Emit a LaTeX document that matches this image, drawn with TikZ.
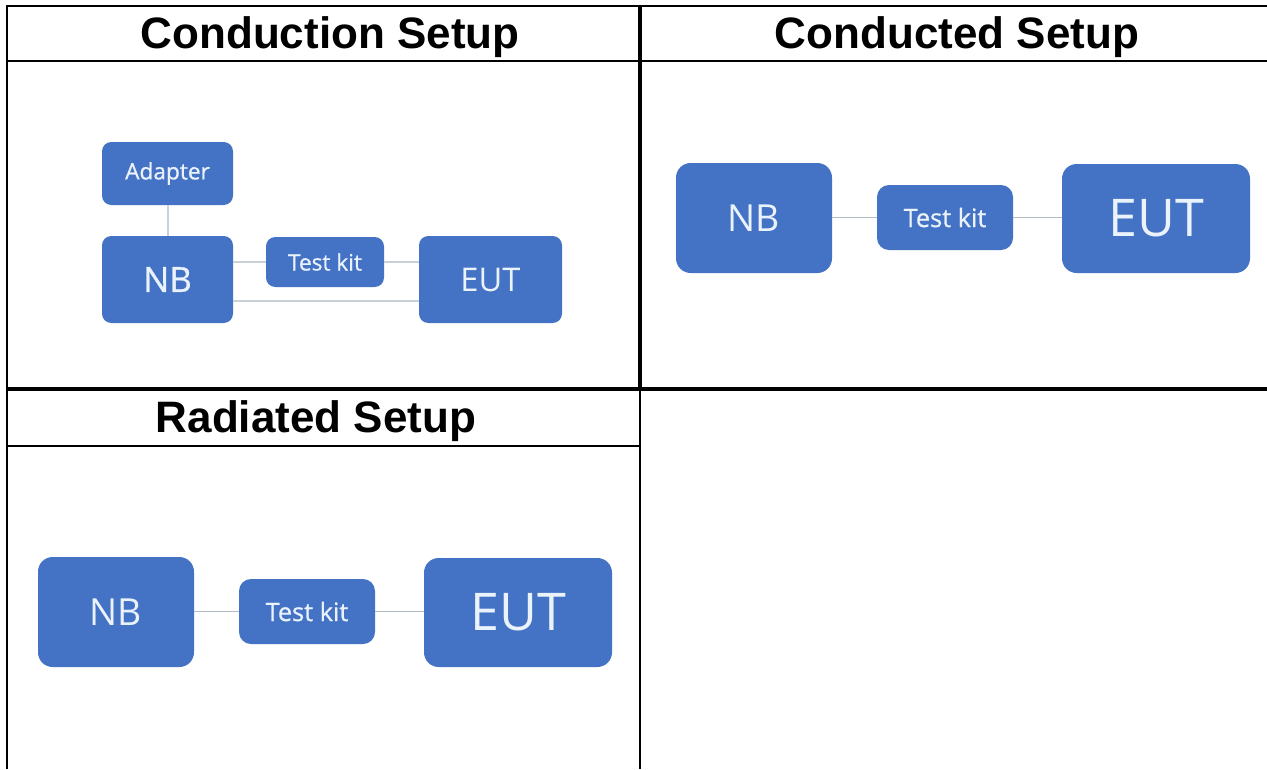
\documentclass[tikz,border=0pt]{standalone}
\usepackage{fontspec}
\setmainfont{Liberation Sans}
\newfontfamily\boxfont{Open Sans}
\newfontfamily\boxfontsb[FakeBold=0.8]{Open Sans}
\definecolor{boxblue}{HTML}{4472C4}
\definecolor{boxtext}{HTML}{EAF2FB}
\definecolor{wire}{HTML}{B4BCC6}
\definecolor{wirelight}{HTML}{C8D0D8}
\begin{document}
\begin{tikzpicture}[x=0.75pt,y=-0.75pt,
  blubox/.style={fill=boxblue, text=boxtext, inner sep=0pt, align=center},
  small/.style={blubox, rounded corners=7pt},
  big/.style={blubox, rounded corners=11pt},
  wireline/.style={draw=wire, line width=1.3pt},
  wirelite/.style={draw=wirelight, line width=1.5pt},
  grid/.style={draw=black, line width=2pt},
  heading/.style={font=\bfseries\fontsize{33}{38}\selectfont, inner sep=0pt}]
\useasboundingbox (0,0) rectangle (1267,769);
\fill[white] (0,0) rectangle (1267,769);
% table grid
\draw[grid] (7,6) -- (1267,6);
\draw[grid] (7,61) -- (1267,61);
\draw[grid, line width=2.4pt] (7,389) -- (1267,389);
\draw[grid] (7,446) -- (640,446);
\draw[grid] (7,5) -- (7,769);
\draw[grid, line width=3pt] (640,5) -- (640,389);
\draw[grid] (640,389) -- (640,769);
% headings
\node[heading] (h1) at (330,37) {Conduction Setup};
\node[heading] (h2) at (957,37) {Conducted Setup};
\node[heading] (h3) at (316,421) {Radiated Setup};
% conduction setup
\node[small, minimum width=98.25pt, minimum height=47.25pt, font=\boxfontsb\fontsize{17}{20}\selectfont] (ad) at (167.5,173.5) {Adapter};
\node[small, minimum width=98.25pt, minimum height=65.25pt, font=\boxfontsb\fontsize{26}{30}\selectfont] (nb1) at (167.5,279.5) {NB};
\node[small, minimum width=88.5pt, minimum height=37.5pt, font=\boxfontsb\fontsize{17}{20}\selectfont] (tk1) at (325,262) {Test kit};
\node[small, minimum width=107.25pt, minimum height=65.25pt, font=\boxfont\fontsize{24.5}{28}\selectfont] (eut1) at (490.5,279.5) {EUT};
\draw[wirelite] (ad.south) -- (nb1.north);
\draw[wirelite] (tk1.west -| nb1.east) -- (tk1.west);
\draw[wirelite] (tk1.east) -- (tk1.east -| eut1.west);
\draw[wirelite] ([yshift=-16.2pt]nb1.east) -- ([yshift=-16.2pt]eut1.west);
% conducted setup
\node[big, minimum width=117pt, minimum height=82.5pt, font=\boxfont\fontsize{28}{32}\selectfont] (nb2) at (754,218) {NB};
\node[big, rounded corners=9pt, minimum width=102pt, minimum height=48.75pt, font=\boxfontsb\fontsize{19}{22}\selectfont] (tk2) at (945,217.5) {Test kit};
\node[big, minimum width=141pt, minimum height=81.75pt, font=\boxfont\fontsize{39}{44}\selectfont] (eut2) at (1156,218.5) {EUT};
\draw[wireline] (tk2.west -| nb2.east) -- (tk2.west);
\draw[wireline] (tk2.east) -- (tk2.east -| eut2.west);
% radiated setup
\node[big, minimum width=117pt, minimum height=82.5pt, font=\boxfont\fontsize{28}{32}\selectfont] (nb3) at (116,612) {NB};
\node[big, rounded corners=9pt, minimum width=102pt, minimum height=48.75pt, font=\boxfontsb\fontsize{19}{22}\selectfont] (tk3) at (307,611.5) {Test kit};
\node[big, minimum width=141pt, minimum height=81.75pt, font=\boxfont\fontsize{39}{44}\selectfont] (eut3) at (518,612.5) {EUT};
\draw[wireline] (tk3.west -| nb3.east) -- (tk3.west);
\draw[wireline] (tk3.east) -- (tk3.east -| eut3.west);
\end{tikzpicture}
\end{document}
